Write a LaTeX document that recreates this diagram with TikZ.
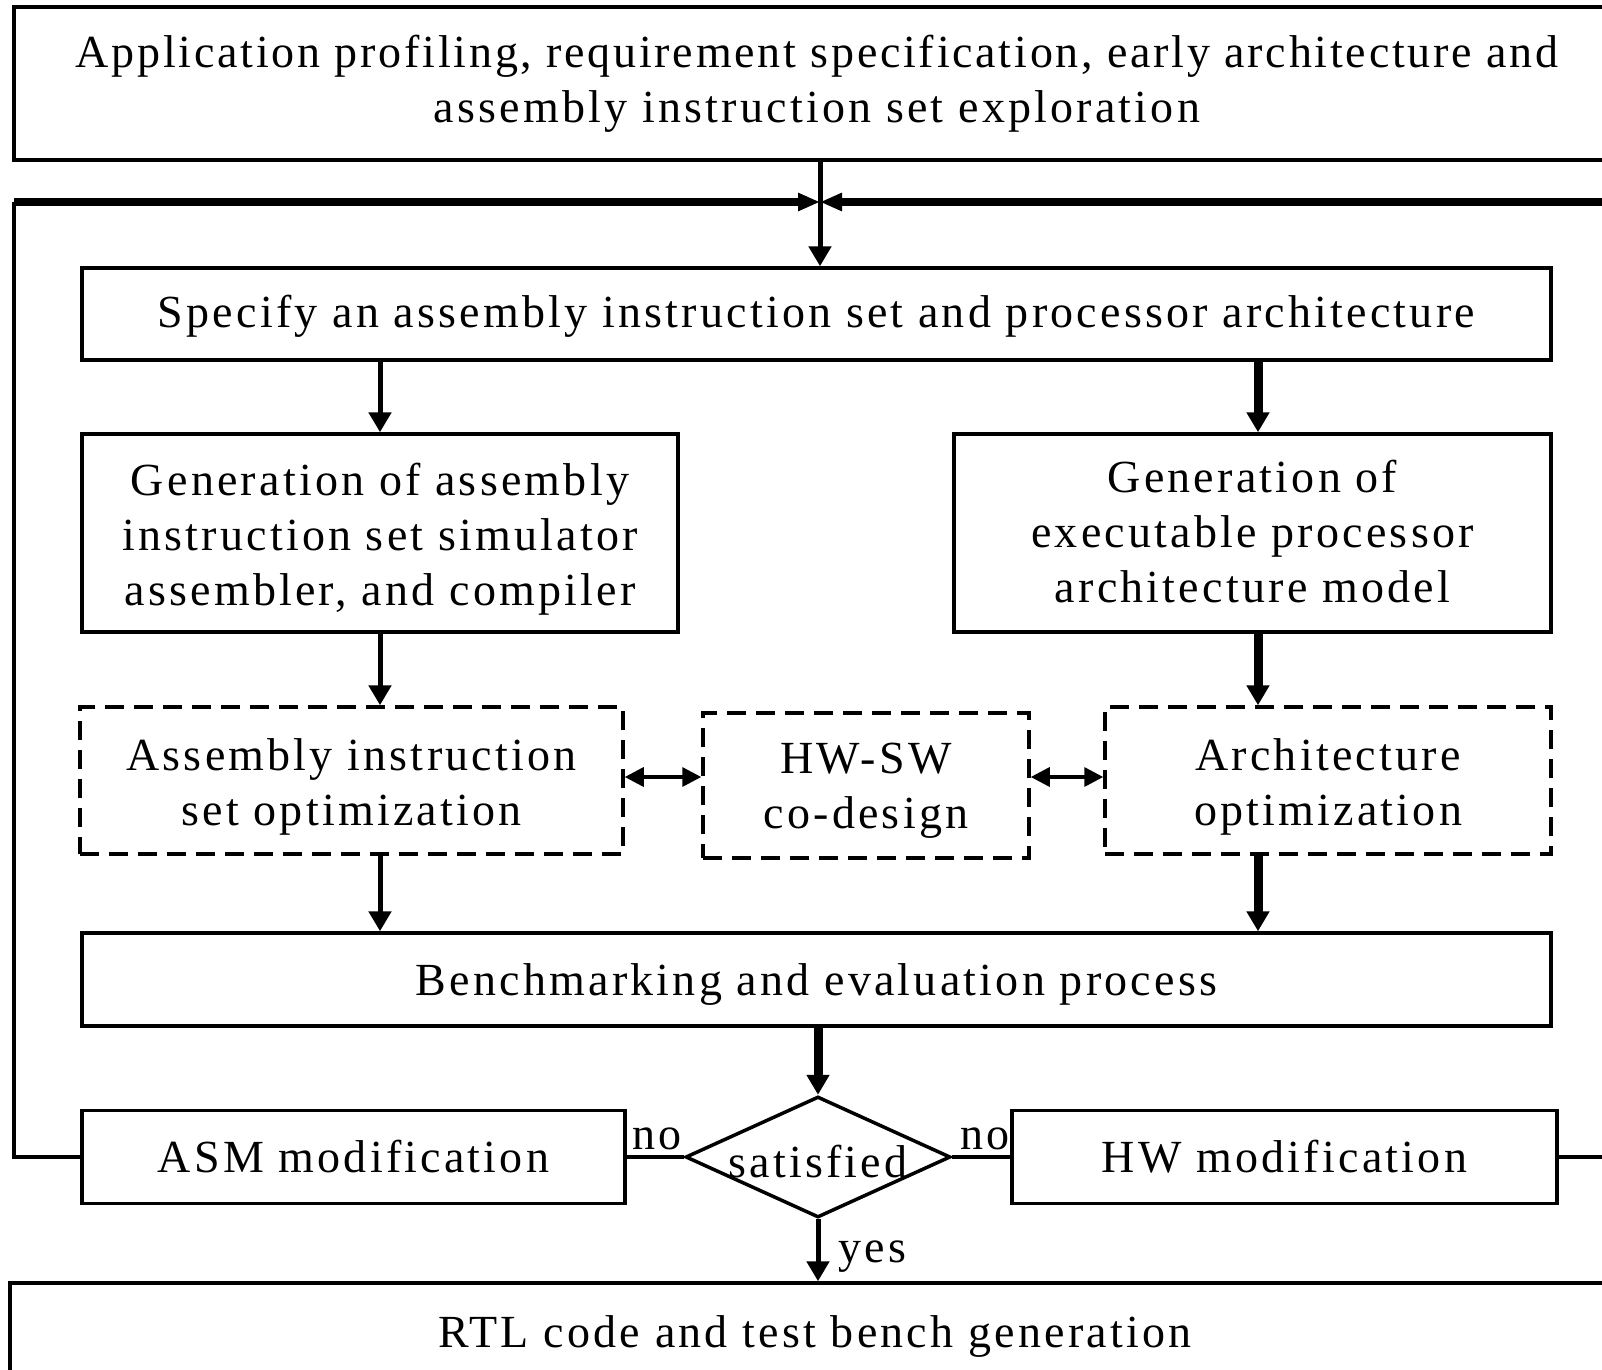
\documentclass[tikz,border=0pt]{standalone}
\usepackage{fontspec}
\setmainfont[LetterSpace=7]{Liberation Serif}
\usetikzlibrary{arrows.meta,shapes.geometric}

% lower the ink of a label without changing the size of its node
\newcommand\dropby[2]{\raisebox{-#1}[\height][\depth]{#2}}
\newcommand\stack[2]{\dropby{#1}{\begin{tabular}{@{}c@{}}#2\end{tabular}}}

\tikzset{
  box/.style={draw, line width=1.75pt, rectangle, inner sep=0pt, align=center,
              font=\fontsize{23}{27.5}\selectfont},
  dbox/.style={box, dash pattern=on 9.5pt off 5pt},
  decision/.style={draw, line width=1.75pt, diamond, inner sep=0pt, align=center,
              font=\fontsize{23}{27.5}\selectfont},
  lbl/.style={inner sep=0pt, font=\fontsize{23}{27.5}\selectfont},
  tip/.style={-{Triangle[width=11pt,length=10pt]}},
  link/.style={line width=1.75pt},
  narrow/.style={line width=2.5pt, tip},
  broad/.style={line width=4.5pt, tip},
  loopline/.style={line width=4.3pt},
  both/.style={line width=1.75pt, {Triangle[width=9.5pt,length=9.5pt]}-{Triangle[width=9.5pt,length=9.5pt]}},
}

\begin{document}
\begin{tikzpicture}[x=0.5pt, y=-0.5pt]
  \useasboundingbox (0,0) rectangle (1602,1370);
  \clip (0,0) rectangle (1602,1370);

  % process boxes
  \node[box, minimum width=803pt, minimum height=76.5pt] (top) at (817,83.5)
    {\addfontfeature{LetterSpace=6}Application profiling, requirement specification, early architecture and\\assembly instruction set exploration};
  \node[box, minimum width=734.5pt, minimum height=46pt] (spec) at (816.5,314)
    {\dropby{1pt}{Specify an assembly instruction set and processor architecture}};
  \node[box, minimum width=298pt, minimum height=99pt] (genA) at (380,533)
    {\stack{3pt}{Generation of assembly\\instruction set simulator\\assembler, and compiler}};
  \node[box, minimum width=298.5pt, minimum height=99pt] (genE) at (1252.5,533)
    {\stack{1.5pt}{Generation of\\executable processor\\architecture model}};
  \node[dbox, minimum width=271.5pt, minimum height=73.5pt] (optA) at (351.5,780.5)
    {\stack{3pt}{Assembly instruction\\set optimization}};
  \node[dbox, minimum width=163pt, minimum height=72.5pt] (hwsw) at (866,785.5)
    {\stack{2.3pt}{HW-SW\\co-design}};
  \node[dbox, minimum width=223pt, minimum height=73.5pt] (optE) at (1328,780.5)
    {\stack{3pt}{Architecture\\optimization}};
  \node[box, minimum width=734.5pt, minimum height=46.5pt] (bench) at (816.5,979.5)
    {\dropby{2.5pt}{Benchmarking and evaluation process}};
  \node[decision, minimum width=132.5pt, minimum height=60.5pt, aspect=2.19] (sat) at (818,1157)
    {\dropby{2.5pt}{satisfied}};
  \node[box, minimum width=271.5pt, minimum height=46.5pt] (asm) at (353.5,1157)
    {ASM modification};
  \node[box, minimum width=272.5pt, minimum height=46.5pt] (hw) at (1284.5,1157)
    {HW modification};
  \node[box, minimum width=805pt, minimum height=48.5pt] (rtl) at (815,1331.5)
    {\dropby{2.5pt}{RTL code and test bench generation}};

  % feedback loop and right column coordinates
  \coordinate (jn) at (820,202);
  \coordinate (lc) at (14,202);
  \coordinate (rc) at (1640,202);
  \coordinate (col) at (1258,0);

  % main flow
  \draw[narrow] (top.south -| jn) -- (jn |- spec.north);
  \draw[narrow] (spec.south -| genA.north) -- (genA.north);
  \draw[broad]  (spec.south -| col) -- (col |- genE.north);
  \draw[narrow] (genA.south) -- (genA.south |- optA.north);
  \draw[broad]  (genE.south -| col) -- (col |- optE.north);
  \draw[narrow] (optA.south -| genA.south) -- (genA.south |- bench.north);
  \draw[broad]  (optE.south -| col) -- (col |- bench.north);
  \draw[broad]  (bench.south -| sat.north) -- (sat.north);
  \draw[narrow] (sat.south) -- (sat.south |- rtl.north);

  % co-design links
  \draw[both] (optA.east |- 0,777) -- (hwsw.west |- 0,777);
  \draw[both] (hwsw.east |- 0,777) -- (optE.west |- 0,777);

  % decision branches
  \draw[link] (sat.west) -- (asm.east);
  \draw[link] (sat.east) -- (hw.west);
  \node[lbl, anchor=south west] (noL) at (632,1150) {no};
  \node[lbl, anchor=south east] (noR) at (1010,1150) {no};
  \node[lbl, anchor=west] (yes) at (838,1257) {yes};

  % return paths to the specification step
  \draw[link] (asm.west) -| (lc);
  \draw[loopline, -{Triangle[width=8.5pt,length=11pt]}] (lc) -- (jn);
  \draw[link] (hw.east) -| (rc);
  \draw[loopline, -{Triangle[width=8.5pt,length=11pt]}] (rc) -- (jn);
\end{tikzpicture}
\end{document}
